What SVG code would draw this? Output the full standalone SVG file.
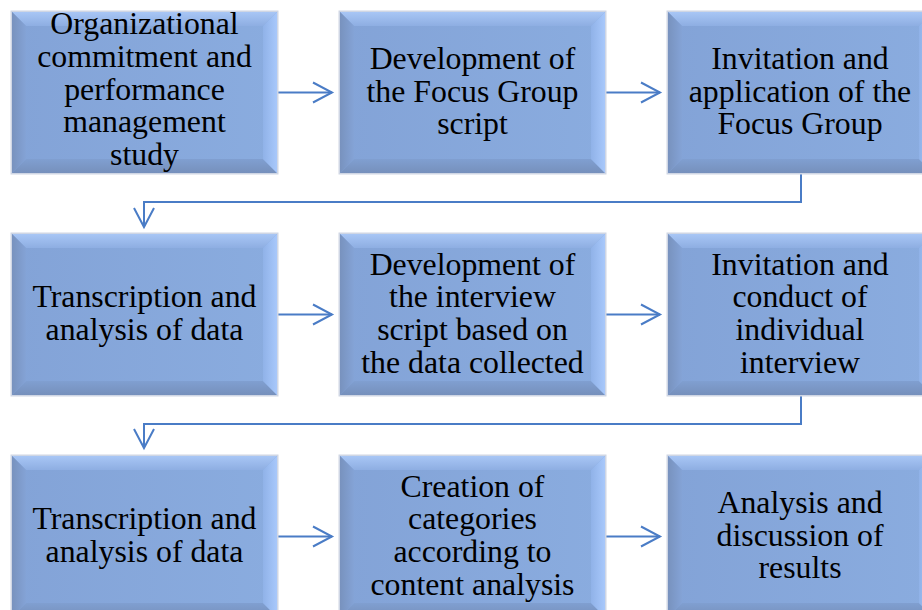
<svg xmlns="http://www.w3.org/2000/svg" xmlns:xlink="http://www.w3.org/1999/xlink" width="922" height="610" viewBox="0 0 922 610">
  <defs>
    <style>
      .label { font-family: "Liberation Serif", "Times New Roman", serif; font-size: 31.8px; fill: #000; text-anchor: middle; }
      .conn { fill: none; stroke: #4a7cc6; stroke-width: 2; }
    </style>
    <!-- bevel shading -->
    <linearGradient id="gTop" x1="0" y1="0" x2="0" y2="1">
      <stop offset="0" stop-color="#a8c6f5"/>
      <stop offset="1" stop-color="#8eaee2"/>
    </linearGradient>
    <linearGradient id="gBottom" x1="0" y1="0" x2="0" y2="1">
      <stop offset="0" stop-color="#809fd1"/>
      <stop offset="1" stop-color="#7690bc"/>
    </linearGradient>
    <linearGradient id="gLeft" x1="0" y1="0" x2="1" y2="0">
      <stop offset="0" stop-color="#7892be"/>
      <stop offset="1" stop-color="#84a3d6"/>
    </linearGradient>
    <linearGradient id="gRight" x1="0" y1="0" x2="1" y2="0">
      <stop offset="0" stop-color="#90b2e8"/>
      <stop offset="1" stop-color="#a8c8fb"/>
    </linearGradient>
    <linearGradient id="gFace" x1="0" y1="0" x2="1" y2="0">
      <stop offset="0" stop-color="#83a3d7"/>
      <stop offset="1" stop-color="#8aacdf"/>
    </linearGradient>
    <!-- beveled box, 265 x 161 -->
    <g id="box">
      <rect x="-0.75" y="-0.75" width="266.5" height="162.5" fill="none" stroke="#cfd6e4" stroke-width="1.5"/>
      <rect x="0" y="0" width="265" height="161" fill="url(#gFace)"/>
      <polygon points="0,0 265,0 251,14 14,14" fill="url(#gTop)"/>
      <polygon points="0,161 265,161 251,147 14,147" fill="url(#gBottom)"/>
      <polygon points="0,0 14,14 14,147 0,161" fill="url(#gLeft)"/>
      <polygon points="265,0 251,14 251,147 265,161" fill="url(#gRight)"/>
    </g>
    <marker id="arrow" markerWidth="24" markerHeight="24" viewBox="-21 -12 24 24" refX="0" refY="0" orient="auto" markerUnits="userSpaceOnUse">
      <path d="M-19,-10 L0,0 L-19,10" fill="none" stroke="#4a7cc6" stroke-width="2"/>
    </marker>
  </defs>

  <g id="connectors">
    <path class="conn" d="M277,92.5 H332" marker-end="url(#arrow)"/>
    <path class="conn" d="M605,92.5 H660" marker-end="url(#arrow)"/>
    <path class="conn" d="M801,173 V202 H144 V227" marker-end="url(#arrow)"/>
    <path class="conn" d="M277,314.5 H332" marker-end="url(#arrow)"/>
    <path class="conn" d="M605,314.5 H660" marker-end="url(#arrow)"/>
    <path class="conn" d="M801,395 V424 H144 V448" marker-end="url(#arrow)"/>
    <path class="conn" d="M277,536.5 H332" marker-end="url(#arrow)"/>
    <path class="conn" d="M605,536.5 H660" marker-end="url(#arrow)"/>
  </g>

  <g id="n1">
    <use xlink:href="#box" x="12" y="12"/>
    <text class="label"><tspan x="144.5" y="33.5">Organizational</tspan><tspan x="144.5" y="66.5">commitment and</tspan><tspan x="144.5" y="99.5">performance</tspan><tspan x="144.5" y="132">management</tspan><tspan x="144.5" y="164.5">study</tspan></text>
  </g>
  <g id="n2">
    <use xlink:href="#box" x="340" y="12"/>
    <text class="label"><tspan x="472.5" y="68.5">Development of</tspan><tspan x="472.5" y="101.5">the Focus Group</tspan><tspan x="472.5" y="134">script</tspan></text>
  </g>
  <g id="n3">
    <use xlink:href="#box" x="668" y="12"/>
    <text class="label"><tspan x="800" y="68.5">Invitation and</tspan><tspan x="800" y="101.5">application of the</tspan><tspan x="800" y="134">Focus Group</tspan></text>
  </g>

  <g id="n4">
    <use xlink:href="#box" x="12" y="234"/>
    <text class="label"><tspan x="144.5" y="307">Transcription and</tspan><tspan x="144.5" y="339.5">analysis of data</tspan></text>
  </g>
  <g id="n5">
    <use xlink:href="#box" x="340" y="234"/>
    <text class="label"><tspan x="472.5" y="274.5">Development of</tspan><tspan x="472.5" y="307">the interview</tspan><tspan x="472.5" y="339.5">script based on</tspan><tspan x="472.5" y="372.5">the data collected</tspan></text>
  </g>
  <g id="n6">
    <use xlink:href="#box" x="668" y="234"/>
    <text class="label"><tspan x="800" y="274.5">Invitation and</tspan><tspan x="800" y="307">conduct of</tspan><tspan x="800" y="339.5">individual</tspan><tspan x="800" y="372.5">interview</tspan></text>
  </g>

  <g id="n7">
    <use xlink:href="#box" x="12" y="456"/>
    <text class="label"><tspan x="144.5" y="529">Transcription and</tspan><tspan x="144.5" y="561.5">analysis of data</tspan></text>
  </g>
  <g id="n8">
    <use xlink:href="#box" x="340" y="456"/>
    <text class="label"><tspan x="472.5" y="496.5">Creation of</tspan><tspan x="472.5" y="529">categories</tspan><tspan x="472.5" y="561.5">according to</tspan><tspan x="472.5" y="594.5">content analysis</tspan></text>
  </g>
  <g id="n9">
    <use xlink:href="#box" x="668" y="456"/>
    <text class="label"><tspan x="800" y="512.5">Analysis and</tspan><tspan x="800" y="545.5">discussion of</tspan><tspan x="800" y="578">results</tspan></text>
  </g>
</svg>
